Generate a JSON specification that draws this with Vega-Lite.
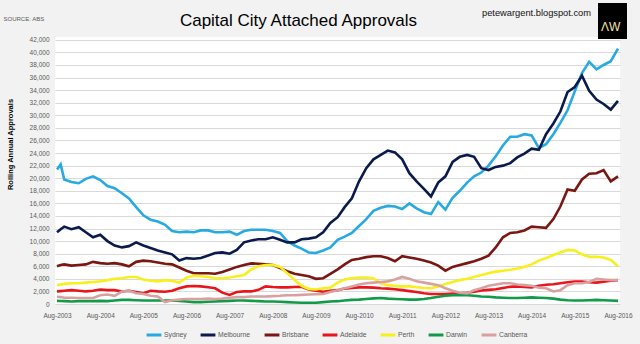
{
  "$schema": "https://vega.github.io/schema/vega-lite/v6.json",
  "width": 565,
  "height": 267,
  "autosize": {"type": "none"},
  "padding": {"left": 55, "top": 37, "right": 20, "bottom": 40},
  "background": "#f2f2f2",
  "config": {
    "view": {"fill": "#ffffff", "stroke": null},
    "font": "Liberation Sans",
    "axis": {"labelFont": "Liberation Sans", "titleFont": "Liberation Sans", "labelColor": "#595959", "labelFontSize": 6.5}
  },
  "title": {"text": "Capital City Attached Approvals", "font": "Liberation Sans", "fontSize": 17, "fontWeight": "normal", "color": "#000000", "anchor": "middle", "dx": -39, "dy": 27, "offset": 0},
  "layer": [
    {
      "data": {"values": [
        {"d": "2003-08-01", "Sydney": 21400, "Melbourne": 11400, "Brisbane": 6000, "Adelaide": 2000, "Perth": 3000, "Darwin": 500, "Canberra": 1150},
        {"d": "2003-09-01", "Sydney": 22200, "Melbourne": 11900, "Brisbane": 6200, "Adelaide": 2050, "Perth": 3100, "Darwin": 480, "Canberra": 1100},
        {"d": "2003-10-01", "Sydney": 19800, "Melbourne": 12300, "Brisbane": 6300, "Adelaide": 2100, "Perth": 3200, "Darwin": 450, "Canberra": 1000},
        {"d": "2003-12-01", "Sydney": 19400, "Melbourne": 11900, "Brisbane": 6100, "Adelaide": 2200, "Perth": 3300, "Darwin": 400, "Canberra": 1000},
        {"d": "2004-02-01", "Sydney": 19200, "Melbourne": 12200, "Brisbane": 6200, "Adelaide": 2100, "Perth": 3300, "Darwin": 450, "Canberra": 950},
        {"d": "2004-04-01", "Sydney": 19900, "Melbourne": 11400, "Brisbane": 6300, "Adelaide": 2000, "Perth": 3400, "Darwin": 450, "Canberra": 950},
        {"d": "2004-06-01", "Sydney": 20300, "Melbourne": 10600, "Brisbane": 6700, "Adelaide": 2100, "Perth": 3500, "Darwin": 450, "Canberra": 950},
        {"d": "2004-08-01", "Sydney": 19700, "Melbourne": 11000, "Brisbane": 6500, "Adelaide": 2300, "Perth": 3600, "Darwin": 500, "Canberra": 1400},
        {"d": "2004-10-01", "Sydney": 18750, "Melbourne": 10000, "Brisbane": 6400, "Adelaide": 2200, "Perth": 3800, "Darwin": 450, "Canberra": 1500},
        {"d": "2004-12-01", "Sydney": 18400, "Melbourne": 9300, "Brisbane": 6500, "Adelaide": 2200, "Perth": 4000, "Darwin": 550, "Canberra": 1300},
        {"d": "2005-02-01", "Sydney": 17600, "Melbourne": 9000, "Brisbane": 6300, "Adelaide": 2000, "Perth": 4100, "Darwin": 650, "Canberra": 2000},
        {"d": "2005-04-01", "Sydney": 16800, "Melbourne": 9200, "Brisbane": 6000, "Adelaide": 2100, "Perth": 4300, "Darwin": 650, "Canberra": 2100},
        {"d": "2005-06-01", "Sydney": 15400, "Melbourne": 9800, "Brisbane": 6700, "Adelaide": 1900, "Perth": 4300, "Darwin": 600, "Canberra": 1700},
        {"d": "2005-08-01", "Sydney": 14100, "Melbourne": 9300, "Brisbane": 6900, "Adelaide": 1700, "Perth": 3900, "Darwin": 550, "Canberra": 1600},
        {"d": "2005-10-01", "Sydney": 13400, "Melbourne": 8900, "Brisbane": 6800, "Adelaide": 2100, "Perth": 3700, "Darwin": 550, "Canberra": 1300},
        {"d": "2005-12-01", "Sydney": 13100, "Melbourne": 8500, "Brisbane": 6600, "Adelaide": 2000, "Perth": 3600, "Darwin": 550, "Canberra": 1200},
        {"d": "2006-02-01", "Sydney": 12600, "Melbourne": 8200, "Brisbane": 6400, "Adelaide": 1950, "Perth": 3800, "Darwin": 550, "Canberra": 300},
        {"d": "2006-04-01", "Sydney": 11600, "Melbourne": 7900, "Brisbane": 6300, "Adelaide": 2100, "Perth": 3700, "Darwin": 550, "Canberra": 600},
        {"d": "2006-06-01", "Sydney": 11400, "Melbourne": 6900, "Brisbane": 5800, "Adelaide": 2500, "Perth": 3400, "Darwin": 500, "Canberra": 700},
        {"d": "2006-08-01", "Sydney": 11500, "Melbourne": 7300, "Brisbane": 5300, "Adelaide": 2800, "Perth": 4200, "Darwin": 400, "Canberra": 800},
        {"d": "2006-10-01", "Sydney": 11400, "Melbourne": 7200, "Brisbane": 4900, "Adelaide": 2850, "Perth": 4500, "Darwin": 300, "Canberra": 800},
        {"d": "2006-12-01", "Sydney": 11700, "Melbourne": 7300, "Brisbane": 4900, "Adelaide": 2800, "Perth": 4400, "Darwin": 300, "Canberra": 800},
        {"d": "2007-02-01", "Sydney": 11700, "Melbourne": 7700, "Brisbane": 4900, "Adelaide": 2650, "Perth": 4300, "Darwin": 350, "Canberra": 850},
        {"d": "2007-04-01", "Sydney": 11400, "Melbourne": 8100, "Brisbane": 4800, "Adelaide": 2500, "Perth": 4100, "Darwin": 400, "Canberra": 800},
        {"d": "2007-06-01", "Sydney": 11400, "Melbourne": 8200, "Brisbane": 5100, "Adelaide": 1800, "Perth": 4100, "Darwin": 450, "Canberra": 850},
        {"d": "2007-08-01", "Sydney": 11500, "Melbourne": 8000, "Brisbane": 5500, "Adelaide": 1450, "Perth": 4200, "Darwin": 500, "Canberra": 1000},
        {"d": "2007-10-01", "Sydney": 11000, "Melbourne": 8600, "Brisbane": 5900, "Adelaide": 1900, "Perth": 4400, "Darwin": 550, "Canberra": 1100},
        {"d": "2007-12-01", "Sydney": 11600, "Melbourne": 9800, "Brisbane": 6200, "Adelaide": 2000, "Perth": 4600, "Darwin": 550, "Canberra": 1100},
        {"d": "2008-02-01", "Sydney": 11800, "Melbourne": 10100, "Brisbane": 6450, "Adelaide": 2000, "Perth": 5500, "Darwin": 500, "Canberra": 1200},
        {"d": "2008-04-01", "Sydney": 11800, "Melbourne": 10300, "Brisbane": 6400, "Adelaide": 2250, "Perth": 6000, "Darwin": 450, "Canberra": 1200},
        {"d": "2008-06-01", "Sydney": 11800, "Melbourne": 10300, "Brisbane": 6300, "Adelaide": 2800, "Perth": 6200, "Darwin": 400, "Canberra": 1200},
        {"d": "2008-08-01", "Sydney": 11600, "Melbourne": 10600, "Brisbane": 6200, "Adelaide": 2700, "Perth": 6200, "Darwin": 400, "Canberra": 1250},
        {"d": "2008-10-01", "Sydney": 11300, "Melbourne": 10200, "Brisbane": 5700, "Adelaide": 2650, "Perth": 5900, "Darwin": 350, "Canberra": 1300},
        {"d": "2008-12-01", "Sydney": 10000, "Melbourne": 9800, "Brisbane": 5200, "Adelaide": 2650, "Perth": 4900, "Darwin": 300, "Canberra": 1400},
        {"d": "2009-02-01", "Sydney": 9300, "Melbourne": 9800, "Brisbane": 4800, "Adelaide": 2700, "Perth": 3800, "Darwin": 250, "Canberra": 1400},
        {"d": "2009-04-01", "Sydney": 8800, "Melbourne": 10300, "Brisbane": 4600, "Adelaide": 2750, "Perth": 2900, "Darwin": 200, "Canberra": 1450},
        {"d": "2009-06-01", "Sydney": 8200, "Melbourne": 10400, "Brisbane": 4400, "Adelaide": 2300, "Perth": 2400, "Darwin": 200, "Canberra": 1500},
        {"d": "2009-08-01", "Sydney": 8100, "Melbourne": 10600, "Brisbane": 4000, "Adelaide": 2100, "Perth": 2300, "Darwin": 200, "Canberra": 1550},
        {"d": "2009-10-01", "Sydney": 8500, "Melbourne": 11400, "Brisbane": 4100, "Adelaide": 1950, "Perth": 2500, "Darwin": 300, "Canberra": 1600},
        {"d": "2009-12-01", "Sydney": 9000, "Melbourne": 12900, "Brisbane": 4800, "Adelaide": 2100, "Perth": 2600, "Darwin": 400, "Canberra": 1900},
        {"d": "2010-02-01", "Sydney": 10200, "Melbourne": 13800, "Brisbane": 5500, "Adelaide": 2200, "Perth": 3400, "Darwin": 450, "Canberra": 2200},
        {"d": "2010-04-01", "Sydney": 10700, "Melbourne": 15400, "Brisbane": 6300, "Adelaide": 2450, "Perth": 3900, "Darwin": 550, "Canberra": 2500},
        {"d": "2010-06-01", "Sydney": 11300, "Melbourne": 16800, "Brisbane": 7000, "Adelaide": 2550, "Perth": 4100, "Darwin": 650, "Canberra": 2800},
        {"d": "2010-08-01", "Sydney": 12400, "Melbourne": 19500, "Brisbane": 7200, "Adelaide": 2650, "Perth": 4200, "Darwin": 700, "Canberra": 3100},
        {"d": "2010-10-01", "Sydney": 13500, "Melbourne": 21600, "Brisbane": 7450, "Adelaide": 2650, "Perth": 4200, "Darwin": 800, "Canberra": 3300},
        {"d": "2010-12-01", "Sydney": 14800, "Melbourne": 23000, "Brisbane": 7600, "Adelaide": 2600, "Perth": 4100, "Darwin": 900, "Canberra": 3400},
        {"d": "2011-02-01", "Sydney": 15300, "Melbourne": 23700, "Brisbane": 7600, "Adelaide": 2500, "Perth": 3300, "Darwin": 950, "Canberra": 3500},
        {"d": "2011-04-01", "Sydney": 15600, "Melbourne": 24400, "Brisbane": 7300, "Adelaide": 2450, "Perth": 3000, "Darwin": 850, "Canberra": 3600},
        {"d": "2011-06-01", "Sydney": 15500, "Melbourne": 24100, "Brisbane": 6800, "Adelaide": 2350, "Perth": 2900, "Darwin": 800, "Canberra": 3900},
        {"d": "2011-08-01", "Sydney": 15100, "Melbourne": 23000, "Brisbane": 7600, "Adelaide": 2200, "Perth": 2800, "Darwin": 750, "Canberra": 4300},
        {"d": "2011-10-01", "Sydney": 16000, "Melbourne": 20800, "Brisbane": 7400, "Adelaide": 2050, "Perth": 2800, "Darwin": 700, "Canberra": 4000},
        {"d": "2011-12-01", "Sydney": 15200, "Melbourne": 19500, "Brisbane": 7200, "Adelaide": 1900, "Perth": 2650, "Darwin": 700, "Canberra": 3600},
        {"d": "2012-02-01", "Sydney": 14600, "Melbourne": 18300, "Brisbane": 6900, "Adelaide": 1700, "Perth": 2550, "Darwin": 800, "Canberra": 3400},
        {"d": "2012-04-01", "Sydney": 14300, "Melbourne": 17100, "Brisbane": 6600, "Adelaide": 1600, "Perth": 2500, "Darwin": 950, "Canberra": 3200},
        {"d": "2012-06-01", "Sydney": 16200, "Melbourne": 19300, "Brisbane": 6100, "Adelaide": 1600, "Perth": 2800, "Darwin": 1150, "Canberra": 3000},
        {"d": "2012-08-01", "Sydney": 15000, "Melbourne": 20300, "Brisbane": 5300, "Adelaide": 1600, "Perth": 3200, "Darwin": 1300, "Canberra": 2500},
        {"d": "2012-10-01", "Sydney": 16900, "Melbourne": 22600, "Brisbane": 5900, "Adelaide": 1650, "Perth": 3500, "Darwin": 1400, "Canberra": 2100},
        {"d": "2012-12-01", "Sydney": 18000, "Melbourne": 23400, "Brisbane": 6200, "Adelaide": 1700, "Perth": 3800, "Darwin": 1450, "Canberra": 1800},
        {"d": "2013-02-01", "Sydney": 19300, "Melbourne": 23700, "Brisbane": 6500, "Adelaide": 1800, "Perth": 4000, "Darwin": 1400, "Canberra": 1700},
        {"d": "2013-04-01", "Sydney": 20300, "Melbourne": 23400, "Brisbane": 6800, "Adelaide": 1950, "Perth": 4300, "Darwin": 1300, "Canberra": 2200},
        {"d": "2013-06-01", "Sydney": 20900, "Melbourne": 21600, "Brisbane": 7200, "Adelaide": 2150, "Perth": 4600, "Darwin": 1200, "Canberra": 2500},
        {"d": "2013-08-01", "Sydney": 22000, "Melbourne": 21300, "Brisbane": 7700, "Adelaide": 2250, "Perth": 4900, "Darwin": 1150, "Canberra": 2900},
        {"d": "2013-10-01", "Sydney": 23500, "Melbourne": 21800, "Brisbane": 9000, "Adelaide": 2350, "Perth": 5150, "Darwin": 1050, "Canberra": 3100},
        {"d": "2013-12-01", "Sydney": 25200, "Melbourne": 22000, "Brisbane": 10600, "Adelaide": 2550, "Perth": 5300, "Darwin": 1000, "Canberra": 3300},
        {"d": "2014-02-01", "Sydney": 26600, "Melbourne": 22400, "Brisbane": 11300, "Adelaide": 2750, "Perth": 5450, "Darwin": 950, "Canberra": 3300},
        {"d": "2014-04-01", "Sydney": 26600, "Melbourne": 23300, "Brisbane": 11400, "Adelaide": 2800, "Perth": 5650, "Darwin": 950, "Canberra": 3100},
        {"d": "2014-06-01", "Sydney": 27000, "Melbourne": 23900, "Brisbane": 11700, "Adelaide": 2700, "Perth": 5900, "Darwin": 1000, "Canberra": 3000},
        {"d": "2014-08-01", "Sydney": 26800, "Melbourne": 24700, "Brisbane": 12300, "Adelaide": 2650, "Perth": 6300, "Darwin": 1050, "Canberra": 2900},
        {"d": "2014-10-01", "Sydney": 24800, "Melbourne": 24500, "Brisbane": 12200, "Adelaide": 2900, "Perth": 6900, "Darwin": 1000, "Canberra": 2600},
        {"d": "2014-12-01", "Sydney": 25400, "Melbourne": 27000, "Brisbane": 12100, "Adelaide": 3050, "Perth": 7300, "Darwin": 950, "Canberra": 2500},
        {"d": "2015-02-01", "Sydney": 27000, "Melbourne": 28700, "Brisbane": 13500, "Adelaide": 3150, "Perth": 7800, "Darwin": 850, "Canberra": 2000},
        {"d": "2015-04-01", "Sydney": 28800, "Melbourne": 30600, "Brisbane": 15500, "Adelaide": 3300, "Perth": 8200, "Darwin": 700, "Canberra": 2200},
        {"d": "2015-06-01", "Sydney": 30800, "Melbourne": 33700, "Brisbane": 18200, "Adelaide": 3450, "Perth": 8600, "Darwin": 600, "Canberra": 3000},
        {"d": "2015-08-01", "Sydney": 33800, "Melbourne": 34500, "Brisbane": 18000, "Adelaide": 3550, "Perth": 8500, "Darwin": 550, "Canberra": 3300},
        {"d": "2015-10-01", "Sydney": 36700, "Melbourne": 36300, "Brisbane": 19800, "Adelaide": 3550, "Perth": 7900, "Darwin": 550, "Canberra": 3300},
        {"d": "2015-12-01", "Sydney": 38500, "Melbourne": 33900, "Brisbane": 20700, "Adelaide": 3450, "Perth": 7500, "Darwin": 600, "Canberra": 3500},
        {"d": "2016-02-01", "Sydney": 37300, "Melbourne": 32500, "Brisbane": 20800, "Adelaide": 3400, "Perth": 7500, "Darwin": 650, "Canberra": 4000},
        {"d": "2016-04-01", "Sydney": 38000, "Melbourne": 31800, "Brisbane": 21300, "Adelaide": 3550, "Perth": 7400, "Darwin": 600, "Canberra": 3900},
        {"d": "2016-06-01", "Sydney": 38600, "Melbourne": 30900, "Brisbane": 19500, "Adelaide": 3700, "Perth": 7000, "Darwin": 550, "Canberra": 3800},
        {"d": "2016-08-01", "Sydney": 40600, "Melbourne": 32300, "Brisbane": 20300, "Adelaide": 3800, "Perth": 6000, "Darwin": 500, "Canberra": 3800}
      ]},
      "transform": [{"fold": ["Sydney", "Melbourne", "Brisbane", "Adelaide", "Perth", "Darwin", "Canberra"], "as": ["city", "value"]}],
      "mark": {"type": "line", "strokeWidth": 2.6},
      "encoding": {
        "x": {
          "field": "d", "type": "temporal", "timeUnit": "utcyearmonth",
          "scale": {"domain": [{"year": 2003, "month": 7, "date": 15, "utc": true}, {"year": 2016, "month": 8, "date": 18, "utc": true}]},
          "axis": {
            "title": null, "labelExpr": "utcFormat(datum.value, '%b-%Y')", "grid": false, "domain": false, "ticks": false, "labelPadding": 8, "labelFontSize": 6.5,
            "values": [
              {"year": 2003, "month": 8, "date": 1, "utc": true}, {"year": 2004, "month": 8, "date": 1, "utc": true},
              {"year": 2005, "month": 8, "date": 1, "utc": true}, {"year": 2006, "month": 8, "date": 1, "utc": true},
              {"year": 2007, "month": 8, "date": 1, "utc": true}, {"year": 2008, "month": 8, "date": 1, "utc": true},
              {"year": 2009, "month": 8, "date": 1, "utc": true}, {"year": 2010, "month": 8, "date": 1, "utc": true},
              {"year": 2011, "month": 8, "date": 1, "utc": true}, {"year": 2012, "month": 8, "date": 1, "utc": true},
              {"year": 2013, "month": 8, "date": 1, "utc": true}, {"year": 2014, "month": 8, "date": 1, "utc": true},
              {"year": 2015, "month": 8, "date": 1, "utc": true}, {"year": 2016, "month": 8, "date": 1, "utc": true}
            ]
          }
        },
        "y": {
          "field": "value", "type": "quantitative",
          "scale": {"domain": [0, 42450], "nice": false},
          "axis": {
            "values": [0, 2000, 4000, 6000, 8000, 10000, 12000, 14000, 16000, 18000, 20000, 22000, 24000, 26000, 28000, 30000, 32000, 34000, 36000, 38000, 40000, 42000],
            "labelExpr": "format(datum.value, ',')", "grid": true, "gridColor": "#d9d9d9", "gridWidth": 1, "domain": false, "ticks": false, "labelPadding": 6,
            "title": "Rolling Annual Approvals", "titleFontSize": 7.5, "titleFontWeight": "bold", "titleColor": "#000000",
            "titleAngle": -90, "titleX": -45, "titleY": 107, "titleAlign": "center", "titleBaseline": "middle"
          }
        },
        "color": {
          "field": "city", "type": "nominal",
          "scale": {
            "domain": ["Sydney", "Melbourne", "Brisbane", "Adelaide", "Perth", "Darwin", "Canberra"],
            "range": ["#27a9e1", "#0b1a4d", "#7a1712", "#e8161c", "#f7ef1e", "#119a48", "#d9a0a0"]
          },
          "legend": {
            "orient": "none", "legendX": 90, "legendY": 289, "direction": "horizontal", "title": null,
            "symbolType": "stroke", "symbolStrokeWidth": 3, "symbolSize": 220, "labelFontSize": 6.8, "labelColor": "#595959",
            "labelFont": "Liberation Sans", "columnPadding": 7, "labelOffset": 1, "padding": 0
          }
        }
      }
    },
    {
      "data": {"values": [{"d": "2010-08-01", "v": 1000}]},
      "mark": {"type": "point", "opacity": 0},
      "encoding": {
        "x": {
          "field": "d", "type": "temporal", "timeUnit": "utcyearmonth",
          "axis": {"orient": "top", "labels": false, "ticks": false, "domain": false, "grid": false,
            "title": "SOURCE: ABS", "titleX": -52, "titleY": -19, "titleAlign": "left", "titleBaseline": "middle",
            "titleFont": "Liberation Sans", "titleFontSize": 6, "titleFontWeight": "normal", "titleColor": "#595959"}
        },
        "y": {
          "field": "v", "type": "quantitative",
          "axis": {"orient": "right", "labels": false, "ticks": false, "domain": false, "grid": false,
            "title": "petewargent.blogspot.com", "titleAngle": 0, "titleX": -84, "titleY": -25, "titleAlign": "center", "titleBaseline": "middle",
            "titleFont": "Liberation Sans", "titleFontSize": 9.3, "titleFontWeight": "normal", "titleColor": "#111111"}
        },
        "shape": {
          "datum": "ΛW",
          "legend": {"orient": "none", "legendX": 543, "legendY": -34, "fillColor": "#000000", "padding": 6,
            "title": " ", "titleFontSize": 9, "titlePadding": 3,
            "labelColor": "#f0e2a8", "labelFont": "Liberation Sans", "labelFontSize": 12, "symbolSize": 0.01, "symbolOpacity": 0, "symbolStrokeWidth": 0, "labelOffset": -15}
        }
      }
    }
  ],
  "resolve": {"axis": {"x": "independent", "y": "independent"}}
}
